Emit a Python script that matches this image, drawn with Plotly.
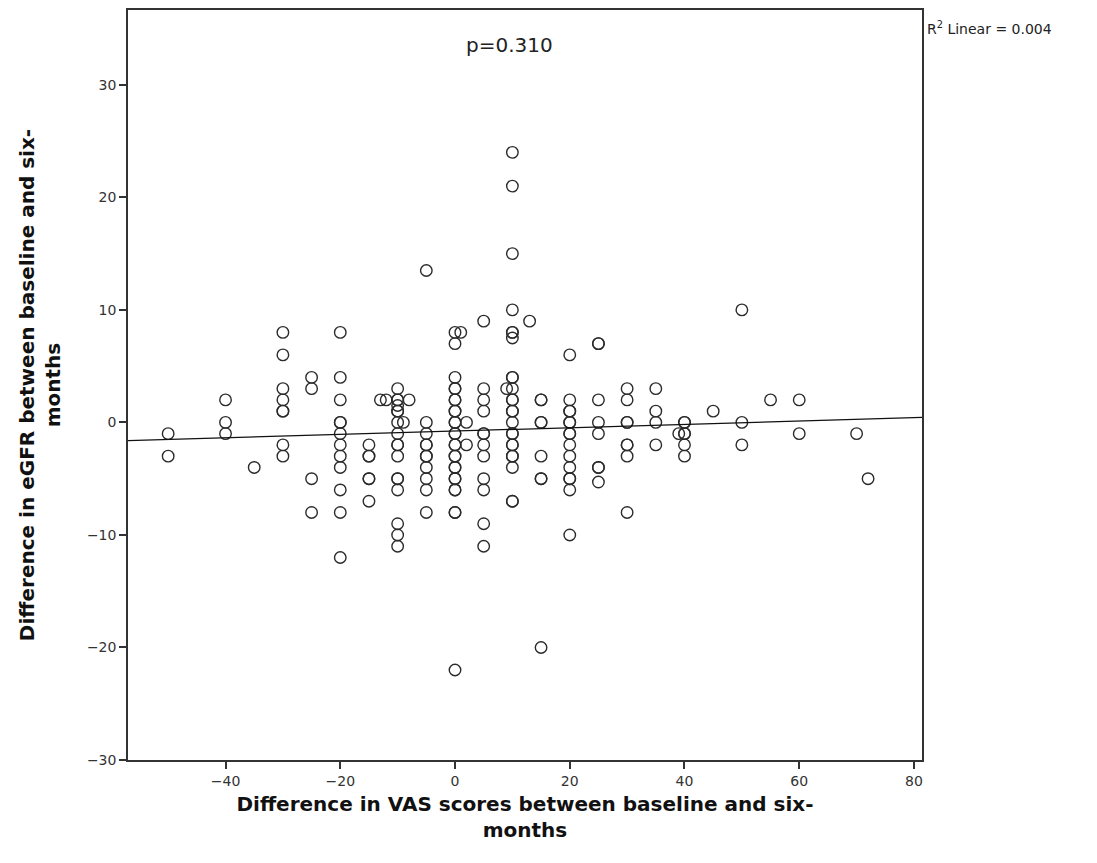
import plotly.graph_objects as go

# ---- data (VAS difference, eGFR difference) ----
vas_neg = [-50, -50, -40, -40, -40, -35,
           -30, -30, -30, -30, -30, -30, -30, -30,
           -25, -25, -25, -25,
           -20, -20, -20, -20, -20, -20, -20, -20, -20, -20, -20, -20,
           -15, -15, -15, -15, -15, -15,
           -13, -12,
           -10, -10, -10, -10, -10, -10, -10, -10, -10, -10, -10, -10, -10, -10, -10, -10, -10,
           -9, -8,
           -5, -5, -5, -5, -5, -5, -5, -5, -5, -5, -5]
egfr_neg = [-1, -3, 2, 0, -1, -4,
            8, 6, 3, 2, 1, 1, -2, -3,
            4, 3, -5, -8,
            8, 4, 2, 0, 0, -1, -2, -3, -4, -6, -8, -12,
            -2, -3, -3, -5, -5, -7,
            2, 2,
            3, 2, 2, 1.5, 1, 1, 0, -1, -2, -2, -3, -5, -5, -6, -9, -10, -11,
            0, 2,
            13.5, 0, -1, -2, -2, -3, -3, -4, -5, -6, -8]

vas_zero = [0] * 26 + [1, 2, 2]
egfr_zero = [8, 7, 4, 3, 3, 2, 2, 1, 1, 0, 0, -1, -1, -2, -2, -3, -3, -4, -4,
             -5, -5, -6, -6, -8, -8, -22,
             8, 0, -2]

vas_pos = [5, 5, 5, 5, 5, 5, 5, 5, 5, 5, 5, 5,
           9,
           10, 10, 10, 10, 10, 10, 10, 10, 10, 10, 10, 10, 10, 10, 10, 10, 10, 10, 10, 10, 10, 10, 10, 10,
           13,
           15, 15, 15, 15, 15, 15, 15, 15,
           20, 20, 20, 20, 20, 20, 20, 20, 20, 20, 20, 20, 20, 20, 20,
           25, 25, 25, 25, 25, 25, 25, 25,
           30, 30, 30, 30, 30, 30, 30, 30,
           35, 35, 35, 35,
           39, 40, 40, 40, 40, 40, 40,
           45, 50, 50, 50, 55, 60, 60, 70, 72]
egfr_pos = [9, 3, 2, 1, -1, -1, -2, -3, -5, -6, -9, -11,
            3,
            24, 21, 15, 10, 8, 8, 7.5, 4, 4, 3, 2, 2, 1, 1, 0, -1, -1, -2, -2, -3, -3, -4, -7, -7,
            9,
            2, 2, 0, 0, -3, -5, -5, -20,
            6, 2, 1, 1, 0, 0, -1, -1, -2, -3, -4, -5, -5, -6, -10,
            7, 7, 2, 0, -1, -4, -4, -5.3,
            3, 2, 0, 0, -2, -2, -3, -8,
            3, 1, 0, -2,
            -1, 0, 0, -1, -1, -2, -3,
            1, 10, 0, -2, 2, 2, -1, -1, -5]

vas = vas_neg + vas_zero + vas_pos
egfr = egfr_neg + egfr_zero + egfr_pos

# fitted line as shown (R^2 linear = 0.004)
fit_intercept = -0.77
fit_slope = 0.0149

x_range = [-57.0, 81.4]
y_range = [-30.0, 36.65]
x_ticks = [-40, -20, 0, 20, 40, 60, 80]
y_ticks = [-30, -20, -10, 0, 10, 20, 30]

p_text = "p=0.310"
r2_text = "R<sup>2</sup> Linear = 0.004"
x_title = "Difference in VAS scores between baseline and six-<br>months"
y_title = "Difference in eGFR between baseline and six-<br>months"

fig = go.Figure()
fig.add_trace(go.Scatter(
    x=vas, y=egfr, mode="markers",
    marker=dict(symbol="circle-open", size=11.5, color="#2b2b2b",
                line=dict(width=1.4, color="#2b2b2b")),
    showlegend=False, hoverinfo="x+y"))

fig.add_trace(go.Scatter(
    x=x_range, y=[fit_intercept + fit_slope * v for v in x_range],
    mode="lines", line=dict(color="#111111", width=1.3),
    showlegend=False, hoverinfo="skip"))

axis_common = dict(showgrid=False, zeroline=False, showline=True,
                   linecolor="#333333", linewidth=1.5, mirror=True,
                   ticks="outside", ticklen=7, tickwidth=1.5, tickcolor="#333333",
                   tickfont=dict(family="DejaVu Sans", size=14, color="#333333"))

fig.update_xaxes(range=x_range, tickvals=x_ticks, **axis_common,
                 title=dict(text=x_title, standoff=9,
                            font=dict(family="DejaVu Sans", size=20, color="#111111",
                                      weight="bold")))
fig.update_yaxes(range=y_range, tickvals=y_ticks, **axis_common,
                 title=dict(text=y_title, standoff=21,
                            font=dict(family="DejaVu Sans", size=20, color="#111111",
                                      weight="bold")))

fig.add_annotation(text=p_text, xref="paper", yref="paper", x=0.48, y=1,
                   yshift=-35, xanchor="center", yanchor="middle", showarrow=False,
                   font=dict(family="DejaVu Sans", size=20, color="#222222"))
fig.add_annotation(text=r2_text, xref="paper", yref="paper", x=1, y=1,
                   xshift=3, yshift=-18, xanchor="left", yanchor="middle", showarrow=False,
                   font=dict(family="DejaVu Sans", size=14, color="#222222"))

fig.update_layout(width=1097, height=863,
                  margin=dict(l=128, r=175, t=8, b=103),
                  plot_bgcolor="white", paper_bgcolor="white")

fig.write_html("out.html")
